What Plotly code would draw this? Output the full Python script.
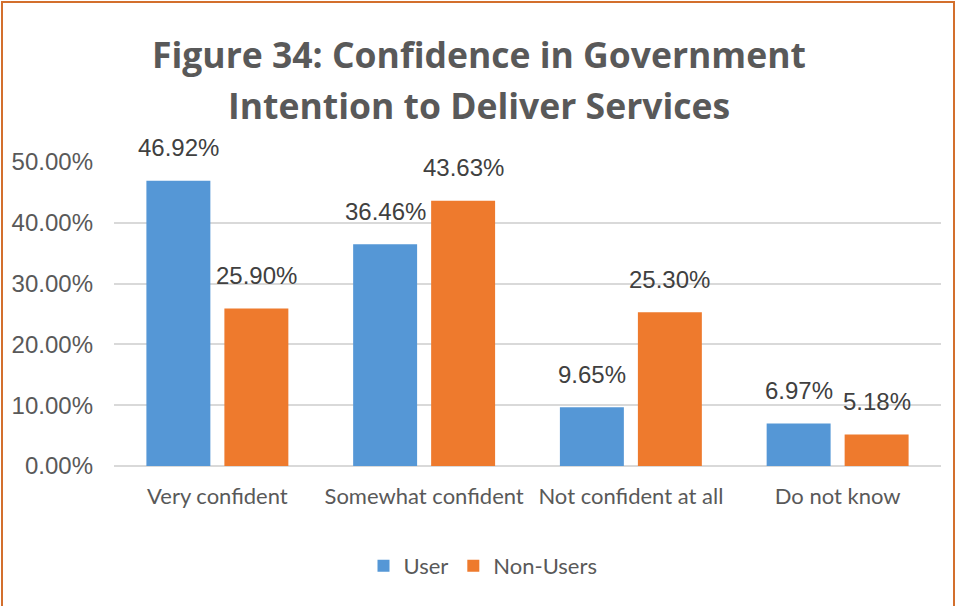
import plotly.graph_objects as go

categories = ["Very confident", "Somewhat confident", "Not confident at all", "Do not know"]
user_values = [0.4692, 0.3646, 0.0965, 0.0697]
non_user_values = [0.2590, 0.4363, 0.2530, 0.0518]
y_ticks = [0.0, 0.1, 0.2, 0.3, 0.4, 0.5]
y_tick_labels = ["0.00%", "10.00%", "20.00%", "30.00%", "40.00%", "50.00%"]

W, H = 957, 606
L, R, T, B = 114, 16, 162, 140
plot_w = W - L - R
plot_h = H - T - B

def px_x(px):
    return (px - L) / plot_w

def px_y(py):
    return (H - B - py) / plot_h

BLUE = "#5597D6"
ORANGE = "#EE7A2D"
TEXT = "#595959"
GRID = "#D9D9D9"

fig = go.Figure()
fig.add_trace(go.Bar(name="User", x=categories, y=user_values,
                     marker=dict(color=BLUE, line=dict(width=0))))
fig.add_trace(go.Bar(name="Non-Users", x=categories, y=non_user_values,
                     marker=dict(color=ORANGE, line=dict(width=0))))

annotations = []
# value labels above each bar
for cat, u, n in zip(categories, user_values, non_user_values):
    for val, shift in ((u, -39), (n, 39)):
        annotations.append(dict(
            x=cat, y=val, xref="x", yref="y", text=f"{val*100:.2f}%",
            showarrow=False, xshift=shift, yshift=33, yanchor="middle",
            font=dict(family="Liberation Sans, Arial", size=24, color="#404040")))

# two-line title
for line, py in (("Figure 34: Confidence in Government", 54),
                 ("Intention to Deliver Services", 105)):
    annotations.append(dict(
        x=px_x(479), y=px_y(py), xref="paper", yref="paper", text=f"<b>{line}</b>",
        showarrow=False, xanchor="center", yanchor="middle",
        font=dict(family="Open Sans", size=35.5, color=TEXT)))

fig.update_layout(
    width=W, height=H,
    margin=dict(l=L, r=R, t=T, b=B, pad=0),
    paper_bgcolor="white", plot_bgcolor="white",
    barmode="group", bargap=0.2455, bargroupgap=0.18,
    annotations=annotations,
    showlegend=True,
    legend=dict(orientation="h", x=px_x(483), y=px_y(566), xanchor="center", yanchor="middle",
                font=dict(family="Lato", size=22, color=TEXT), itemwidth=30,
                traceorder="normal"),
    shapes=[dict(type="rect", xref="paper", yref="paper",
                 x0=px_x(2), x1=px_x(954), y0=px_y(640), y1=px_y(2),
                 line=dict(color="#D36F2D", width=2), fillcolor="rgba(0,0,0,0)", layer="above")],
)

fig.update_xaxes(showgrid=False, showline=False, ticks="",
                 tickfont=dict(family="Lato", size=22, color=TEXT),
                 ticklabelstandoff=15)
fig.update_yaxes(range=[0, 0.5], tickvals=y_ticks, ticktext=y_tick_labels,
                 showgrid=True, gridcolor=GRID, gridwidth=1.5,
                 zeroline=True, zerolinecolor=GRID, zerolinewidth=2,
                 showline=False, ticks="", ticklabelstandoff=20,
                 tickfont=dict(family="Liberation Sans, Arial", size=24, color=TEXT))

fig.write_html("out.html")
